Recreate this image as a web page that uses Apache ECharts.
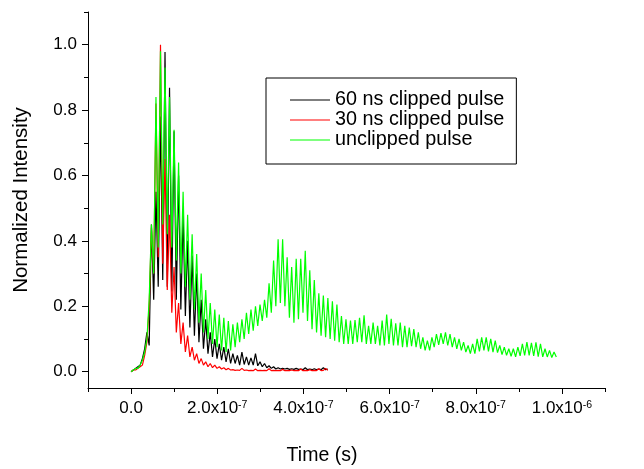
<!DOCTYPE html>
<html>
<head>
<meta charset="utf-8">
<script src="https://cdn.jsdelivr.net/npm/echarts@6/dist/echarts.min.js"></script>
<style>
html,body{margin:0;padding:0;background:#fff;}
#chart{width:644px;height:469px;}
</style>
</head>
<body>
<div id="chart"></div>
<script>
// ---- data ----
const SAMPLE_STEP_S = 5.25e-9;           // sampling step of the traces (s)
const seriesNames = ['60 ns clipped pulse', '30 ns clipped pulse', 'unclipped pulse'];
const seriesColors = ['#000000', '#ff0000', '#00ff00'];

const clipped60 = [
  0, 0.005, 0.01, 0.015, 0.02, 0.04, 0.07, 0.12, 0.08, 0.45, 0.22, 0.55, 0.26, 0.78, 0.28,
  0.978,0.26, 0.868,0.245, 0.735,0.22, 0.60,0.19, 0.48,0.17, 0.40,0.135, 0.355,0.11, 0.30,0.09, 0.22,0.07, 0.16,0.055,
  0.12,0.045, 0.10,0.04, 0.085,0.035, 0.075,0.03, 0.07,0.025, 0.055,0.025, 0.05,0.02, 0.06,0.022, 0.045,0.02, 0.042,0.02,
  0.055,0.018, 0.03,0.015, 0.025,0.012, 0.018,0.01, 0.015,0.008, 0.012,0.008, 0.01,0.008, 0.01,0.007, 0.009,0.007, 0.01,0.007,
  0.008,0.006, 0.012,0.006, 0.008,0.006, 0.009,0.006, 0.008,0.006, 0.012,0.006, 0.008
];

const clipped30 = [
  0, 0.005, 0.005, 0.01, 0.015, 0.02, 0.05, 0.09, 0.2, 0.44, 0.3, 0.82, 0.35,
  1.0,0.33, 0.65,0.25, 0.48,0.18, 0.32,0.12, 0.21,0.085, 0.15,0.06, 0.11,0.045, 0.075,0.035,
  0.055,0.025, 0.04,0.02, 0.03,0.015, 0.025,0.012, 0.02,0.01, 0.015,0.008, 0.012,0.006, 0.01,0.005,
  0.006,0.004,0.005,0.004,0.01,0.004,0.005,0.003,0.004,0.003,
  0.008,0.003,0.004,0.003,0.004,0.003,0.009,0.003,0.004,0.003,
  0.004,0.003,0.007,0.003,0.004,0.003,0.005,0.003,0.004,0.003,
  0.008,0.003,0.004,0.003,0.006,0.003,0.004,0.003,0.009,0.003,
  0.004,0.01,0.004
];

const unclipped = [
  0, 0.005, 0.01, 0.01, 0.02, 0.035, 0.06, 0.1, 0.22, 0.45, 0.3, 0.84, 0.38,
  0.98,0.45, 0.93,0.42, 0.84,0.38, 0.74,0.34, 0.64,0.30, 0.55,0.26, 0.48,0.22, 0.42,0.19, 0.36,0.15, 0.30,0.12,
  0.25,0.10, 0.21,0.085, 0.19,0.075, 0.175,0.065, 0.165,0.06, 0.155,0.065, 0.145,0.075, 0.15,0.09, 0.16,0.10, 0.18,0.115,
  0.19,0.125, 0.20,0.14, 0.205,0.155, 0.22,0.165, 0.27,0.18, 0.34,0.20, 0.405,0.21, 0.405,0.20, 0.35,0.165, 0.32,0.15,
  0.345,0.16, 0.345,0.18, 0.37,0.155, 0.31,0.13, 0.28,0.12, 0.24,0.11, 0.233,0.105, 0.225,0.10, 0.215,0.095, 0.205,0.09,
  0.17,0.085, 0.16,0.085, 0.156,0.085, 0.158,0.09, 0.165,0.09, 0.172,0.085, 0.14,0.085, 0.15,0.085, 0.14,0.08, 0.156,0.08,
  0.175,0.085, 0.162,0.08, 0.148,0.08, 0.15,0.075, 0.14,0.075, 0.135,0.078, 0.13,0.075, 0.12,0.07, 0.105,0.065, 0.095,0.065,
  0.105,0.075, 0.115,0.082, 0.118,0.085, 0.12,0.08, 0.115,0.075, 0.105,0.07, 0.10,0.065, 0.09,0.06, 0.08,0.055, 0.085,0.055,
  0.10,0.062, 0.105,0.065, 0.105,0.062, 0.10,0.06, 0.095,0.058, 0.08,0.052, 0.075,0.05, 0.07,0.047, 0.07,0.045, 0.075,0.048,
  0.085,0.05, 0.09,0.05, 0.088,0.048, 0.09,0.046, 0.085,0.045, 0.07,0.045, 0.065,0.043, 0.06,0.045
];

const xMajorTicks = [0, 2e-7, 4e-7, 6e-7, 8e-7, 1e-6];
const xMinorTicks = [-1e-7, 1e-7, 3e-7, 5e-7, 7e-7, 9e-7, 1.1e-6];
const xTickMantissa = ['0.0', '2.0x10', '4.0x10', '6.0x10', '8.0x10', '1.0x10'];
const xTickExponent = ['', '-7', '-7', '-7', '-7', '-6'];
const yMajorTicks = [0, 0.2, 0.4, 0.6, 0.8, 1.0];
const yMinorTicks = [0.1, 0.3, 0.5, 0.7, 0.9, 1.1];
const yTickLabels = ['0.0', '0.2', '0.4', '0.6', '0.8', '1.0'];
const xTitle = 'Time (s)';
const yTitle = 'Normalized Intensity';

// ---- chart ----
const FONT = "'Liberation Sans', Arial, Helvetica, sans-serif";
const X_MIN = -1e-7, X_MAX = 1.1e-6, Y_MIN = -0.05, Y_MAX = 1.1;
const TICK_FONT = 17;

function toPairs(arr) { return arr.map((v, i) => [i * SAMPLE_STEP_S, v]); }
function findIdx(list, v) { return list.findIndex(u => Math.abs(u - v) < 1e-12); }

const chart = echarts.init(document.getElementById('chart'), null, {renderer: 'canvas'});
const axisLine = {show: true, onZero: false, lineStyle: {color: '#000', width: 1}};
const traces = [clipped60, clipped30, unclipped];

chart.setOption({
  animation: false,
  backgroundColor: '#fff',
  grid: {left: 88, right: 39, top: 12, bottom: 81, containLabel: false},
  legend: {
    orient: 'vertical', left: 266, top: 78,
    padding: [12, 12, 14, 24], itemGap: 0,
    itemWidth: 40, itemHeight: 14,
    icon: 'path://M0,0 L40,0 L40,1.2 L0,1.2 Z',
    borderColor: '#000', borderWidth: 1,
    data: seriesNames,
    textStyle: {fontFamily: FONT, fontSize: 19.8, color: '#000'}
  },
  graphic: [{
    type: 'text', x: 322, y: 456,
    style: {text: xTitle, fontFamily: FONT, fontSize: 19.5, fill: '#000', align: 'center', verticalAlign: 'middle'}
  }],
  xAxis: [
    {
      type: 'value', min: X_MIN, max: X_MAX, position: 'bottom',
      axisLine: axisLine, splitLine: {show: false},
      axisTick: {show: true, length: 6, customValues: xMajorTicks, lineStyle: {color: '#000'}},
      axisLabel: {
        customValues: xMajorTicks, margin: 12,
        formatter: function (v) {
          const j = findIdx(xMajorTicks, v);
          if (j < 0) return '';
          return xTickExponent[j] ? '{m|' + xTickMantissa[j] + '}{e|' + xTickExponent[j] + '}' : '{m|' + xTickMantissa[j] + '}';
        },
        rich: {
          m: {fontFamily: FONT, fontSize: TICK_FONT, color: '#000'},
          e: {fontFamily: FONT, fontSize: 10.5, color: '#000', verticalAlign: 'top'}
        }
      }
    },
    {
      type: 'value', min: X_MIN, max: X_MAX, position: 'bottom', offset: 0,
      axisLine: {show: false, onZero: false}, splitLine: {show: false},
      axisTick: {show: true, length: 4, customValues: xMinorTicks, lineStyle: {color: '#000'}},
      axisLabel: {show: false}
    }
  ],
  yAxis: [
    {
      type: 'value', min: Y_MIN, max: Y_MAX, position: 'left',
      axisLine: axisLine, splitLine: {show: false},
      axisTick: {show: true, length: 6, customValues: yMajorTicks, lineStyle: {color: '#000'}},
      axisLabel: {
        customValues: yMajorTicks, margin: 11,
        fontFamily: FONT, fontSize: TICK_FONT, color: '#000',
        formatter: function (v) { const j = findIdx(yMajorTicks, v); return j < 0 ? '' : yTickLabels[j]; }
      },
      name: yTitle, nameLocation: 'middle', nameGap: 56,
      nameTextStyle: {fontFamily: FONT, fontSize: 20.5, color: '#000'}
    },
    {
      type: 'value', min: Y_MIN, max: Y_MAX, position: 'left', offset: 0,
      axisLine: {show: false, onZero: false}, splitLine: {show: false},
      axisTick: {show: true, length: 4, customValues: yMinorTicks, lineStyle: {color: '#000'}},
      axisLabel: {show: false}
    }
  ],
  series: traces.map((arr, k) => ({
    name: seriesNames[k], type: 'line', xAxisIndex: 0, yAxisIndex: 0,
    data: toPairs(arr), symbol: 'none', showSymbol: false,
    lineStyle: {color: seriesColors[k], width: 1.2},
    itemStyle: {color: seriesColors[k]},
    z: 2 + k
  }))
});
</script>
</body>
</html>
